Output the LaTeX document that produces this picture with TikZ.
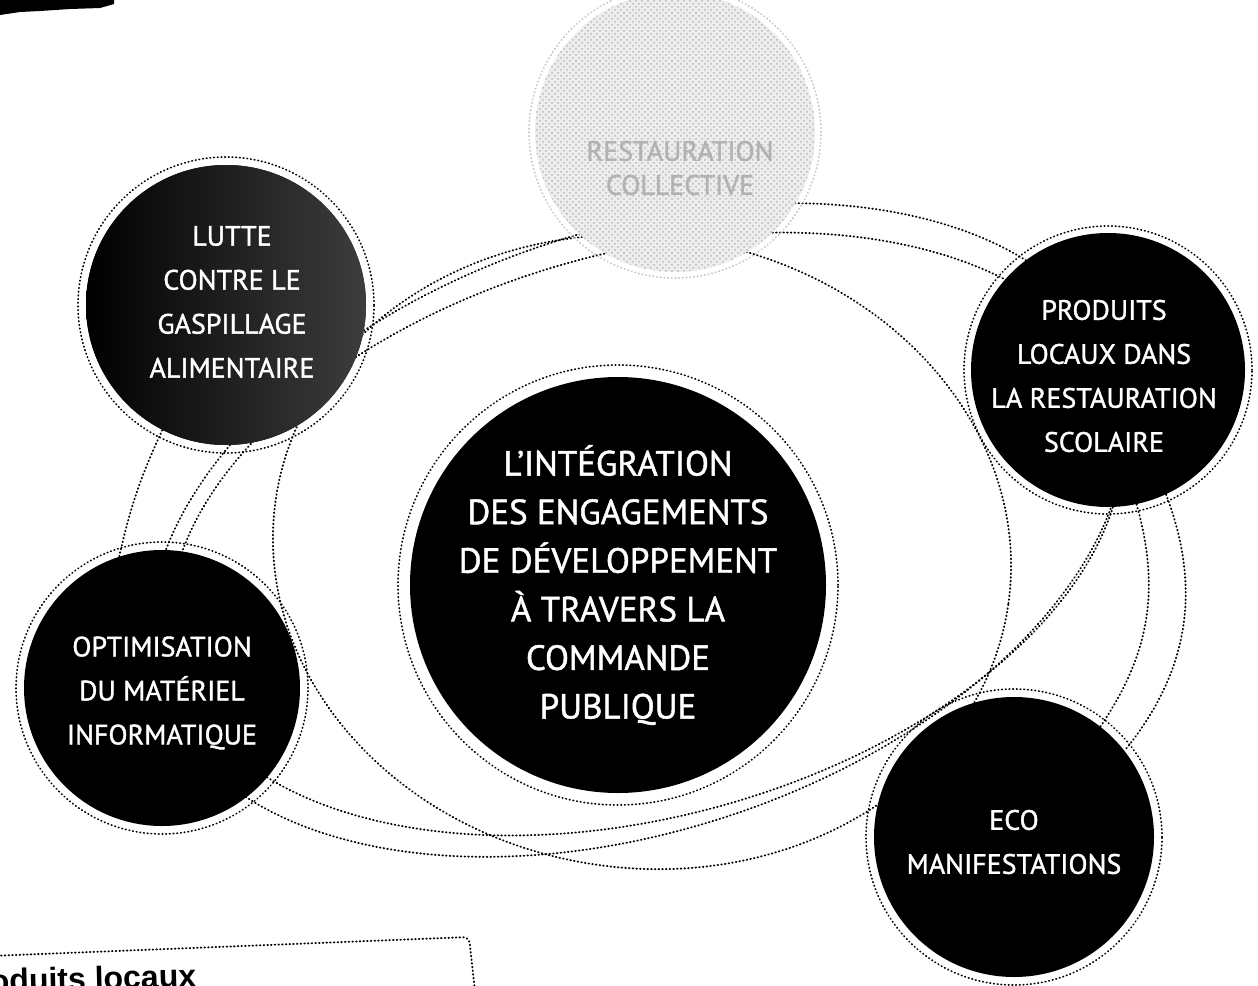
\documentclass[tikz,border=0pt]{standalone}
\usepackage{fontspec}
\setmainfont{PT Sans}
\newfontfamily\discfont{PT Sans}[FakeBold=1.3]
\newfontfamily\boxfont{Liberation Sans}
\usetikzlibrary{patterns}
\begin{document}
\begin{tikzpicture}[x=0.5pt, y=-0.5pt,
  dotline/.style={draw=black, line width=0.95pt, dash pattern=on 0.3pt off 1.55pt, line cap=round},
  ringline/.style={dotline, line width=0.85pt},
  disc/.style={circle, fill=black, inner sep=0pt},
  disctext/.style={align=center, text=white, inner sep=0pt,
    font=\discfont\fontsize{14pt}{22pt}\selectfont},
  midtext/.style={disctext, font=\discfont\fontsize{17.5pt}{24.3pt}\selectfont},
  fadetext/.style={disctext, text=black!30, font=\discfont\fontsize{14pt}{17pt}\selectfont}
]
\useasboundingbox (0,0) rectangle (1258,985);

% centres of the six discs
\coordinate (cg) at (226,305);
\coordinate (co) at (162,688);
\coordinate (cc) at (618,585);
\coordinate (cp) at (1108,370);
\coordinate (ce) at (1014,837);
\coordinate (ct) at (675,132);

% large dotted loops around the central disc
\draw[dotline] (638,530) circle [x radius=252.5pt, y radius=150pt, rotate=18.6];
\draw[dotline] (646,534) circle [x radius=244pt, y radius=141pt, rotate=15.5];
\draw[dotline] (642,552) circle [x radius=185pt, y radius=158pt, rotate=-8];

% discs -- drawn after the loops so they hide them
\fill[black!7] (ct) circle [radius=70pt];
\fill[pattern=crosshatch dots, pattern color=black!28] (ct) circle [radius=70pt];
\node[disc, minimum size=140pt, left color=black, right color=black!76] (gasp) at (cg) {};
\node[disc, minimum size=138pt] (opt) at (co) {};
\node[disc, minimum size=208pt] (mid) at (cc) {};
\node[disc, minimum size=137pt] (prod) at (cp) {};
\node[disc, minimum size=140pt] (eco) at (ce) {};
\node[circle, minimum size=140pt, inner sep=0pt] (top) at (ct) {};

% short arcs between neighbouring discs
\draw[dotline] (gasp.243) to[bend right=6] (opt.108);
\draw[dotline] (prod.282) to[bend left=25] (eco.52);
\draw[dotline] (prod.295) to[bend left=30] (eco.38);

% dotted rings around the discs
\draw[ringline] (cg) circle [radius=74pt];
\draw[ringline] (co) circle [radius=73pt];
\draw[ringline] (cc) circle [radius=110pt];
\draw[ringline] (cp) circle [radius=72pt];
\draw[ringline] (ce) circle [radius=74pt];
\draw[ringline, draw=black!22] (ct) circle [radius=73pt];

% texts
\node[disctext] (gasptxt) at (232,302) {LUTTE\\CONTRE LE\\GASPILLAGE\\ALIMENTAIRE};
\node[disctext] (opttxt) at (162,693) {OPTIMISATION\\DU MATÉRIEL\\INFORMATIQUE};
\node[midtext] (midtxt) at (cc)
  {L’INTÉGRATION\\DES ENGAGEMENTS\\DE DÉVELOPPEMENT\\À TRAVERS LA\\COMMANDE\\PUBLIQUE};
\node[disctext] (prodtxt) at (1104,376) {PRODUITS\\LOCAUX DANS\\LA RESTAURATION\\SCOLAIRE};
\node[disctext] (ecotxt) at (1014,842) {ECO\\MANIFESTATIONS};
\node[fadetext] (toptxt) at (680,168) {RESTAURATION\\COLLECTIVE};

% torn black strip in the upper left corner
\fill[black] (0,0) -- (114,0) -- (114,4) -- (100,8) -- (70,9) -- (40,11) -- (20,12) -- (0,15) -- cycle;

% framed note in the lower left corner
\draw[dotline, rounded corners=3pt] (-10,956) -- (469,937) -- (476,1000);
\node[anchor=base west, rotate=1.5, inner sep=0pt,
  font=\boxfont\bfseries\fontsize{16pt}{18pt}\selectfont] (note) at (-44,993) {Produits locaux};
\end{tikzpicture}
\end{document}
